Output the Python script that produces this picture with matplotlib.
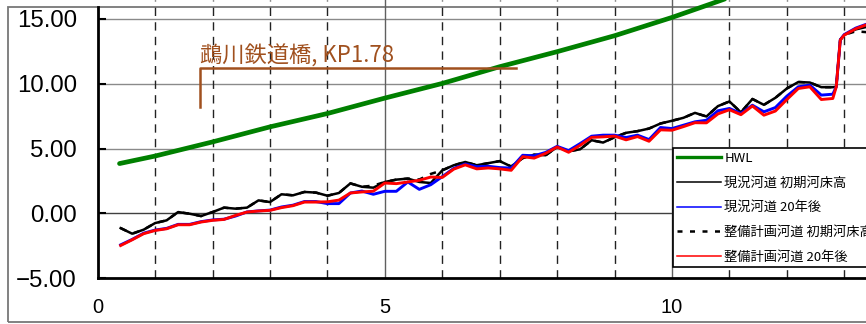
import matplotlib
matplotlib.use("Agg")
import matplotlib.pyplot as plt
from matplotlib.lines import Line2D
from matplotlib.patches import Rectangle

# ---- data -------------------------------------------------------------
# distance from river mouth (km)
km = [0.4, 0.6, 0.8, 1.0, 1.2, 1.4, 1.6, 1.8, 2.0, 2.2,
      2.4, 2.6, 2.8, 3.0, 3.2, 3.4, 3.6, 3.8, 4.0, 4.2,
      4.4, 4.6, 4.8, 5.0, 5.2, 5.4, 5.6, 5.8, 6.0, 6.2,
      6.4, 6.6, 6.8, 7.0, 7.2, 7.4, 7.6, 7.8, 8.0, 8.2,
      8.4, 8.6, 8.8, 9.0, 9.2, 9.4, 9.6, 9.8, 10.0, 10.2,
      10.4, 10.6, 10.8, 11.0, 11.2, 11.4, 11.6, 11.8, 12.0, 12.2,
      12.4, 12.6, 12.8, 12.86, 12.93, 13.0, 13.2, 13.4]

# existing channel, initial bed elevation
current_initial = [-1.13, -1.56, -1.25, -0.74, -0.53, 0.11, -0.02, -0.20, 0.11, 0.45,
                   0.37, 0.45, 1.01, 0.88, 1.48, 1.40, 1.66, 1.61, 1.37, 1.58,
                   2.32, 2.06, 1.99, 2.43, 2.61, 2.69, 2.43, 2.35, 3.33, 3.72,
                   3.97, 3.72, 3.88, 4.04, 3.62, 4.27, 4.53, 4.49, 5.13, 4.80,
                   4.95, 5.65, 5.47, 5.88, 6.22, 6.35, 6.55, 6.94, 7.15, 7.38,
                   7.76, 7.48, 8.28, 8.64, 7.80, 8.83, 8.38, 8.92, 9.64, 10.14,
                   10.10, 9.74, 9.74, 9.77, 13.40, 13.78, 14.20, 14.40]

# existing channel, after 20 years
current_20y = [-2.42, -2.00, -1.52, -1.28, -1.15, -0.84, -0.84, -0.63, -0.50, -0.44,
               -0.20, 0.12, 0.20, 0.26, 0.50, 0.64, 0.92, 0.92, 0.76, 0.76,
               1.58, 1.73, 1.48, 1.71, 1.71, 2.43, 1.86, 2.22, 2.84, 3.48,
               3.82, 3.61, 3.64, 3.54, 3.50, 4.49, 4.45, 4.71, 5.18, 4.85,
               5.39, 5.96, 6.04, 6.04, 5.86, 6.04, 5.70, 6.63, 6.55, 6.81,
               7.07, 7.19, 7.92, 8.10, 7.71, 8.35, 7.84, 8.17, 9.05, 9.77,
               9.90, 9.13, 9.20, 9.77, 13.40, 13.80, 14.30, 14.62]

# planned channel, initial bed elevation
plan_initial = [-1.13, -1.56, -1.25, -0.74, -0.53, 0.11, -0.02, -0.20, 0.11, 0.45,
                0.37, 0.45, 1.01, 0.88, 1.48, 1.40, 1.66, 1.61, 1.37, 1.58,
                2.32, 2.06, 2.15, 2.43, 2.61, 2.69, 2.62, 3.05, 3.33, 3.72,
                3.97, 3.72, 3.88, 4.04, 3.62, 4.27, 4.53, 4.49, 5.13, 4.80,
                4.95, 5.65, 5.47, 5.88, 6.22, 6.35, 6.55, 6.94, 7.15, 7.38,
                7.76, 7.48, 8.28, 8.64, 7.80, 8.83, 8.38, 8.92, 9.64, 10.14,
                10.10, 9.74, 9.74, 9.77, 13.40, 13.78, 14.05, 13.98]

# planned channel, after 20 years
plan_20y = [-2.47, -2.03, -1.56, -1.31, -1.18, -0.87, -0.87, -0.66, -0.53, -0.46,
            -0.15, 0.11, 0.19, 0.24, 0.45, 0.60, 0.88, 0.88, 0.90, 1.03,
            1.58, 1.66, 1.72, 2.35, 2.30, 2.43, 2.56, 2.81, 2.78, 3.42,
            3.75, 3.44, 3.51, 3.44, 3.33, 4.38, 4.27, 4.64, 5.13, 4.72,
            5.26, 5.87, 5.91, 5.97, 5.68, 5.93, 5.57, 6.45, 6.42, 6.70,
            7.00, 6.99, 7.68, 8.00, 7.62, 8.29, 7.58, 7.90, 8.79, 9.64,
            9.77, 8.79, 8.87, 9.77, 13.38, 13.76, 14.25, 14.58]

# high water level
hwl_km = [0.38, 1.0, 2.0, 3.0, 4.0, 5.0, 6.0, 7.0, 8.0, 9.0, 10.0, 10.7, 11.4]
hwl = [3.85, 4.43, 5.52, 6.68, 7.71, 8.90, 10.03, 11.32, 12.48, 13.71, 15.12, 16.20, 17.30]

series_labels = ["HWL", "現況河道 初期河床高", "現況河道 20年後",
                 "整備計画河道 初期河床高", "整備計画河道 20年後"]

# bridge marker
bridge_label = "鵡川鉄道橋, KP1.78"
bridge_km = 1.78
bridge_leader_end = 7.29
bridge_y_top = 11.24
bridge_y_bottom = 8.18

x_ticks = [0, 5, 10]
x_tick_labels = ["0", "5", "10"]
y_ticks = [-5, 0, 5, 10, 15]
y_tick_labels = ["\u22125.00", "0.00", "5.00", "10.00", "15.00"]
dashed_grid_x = [1, 2, 3, 4, 6, 7, 8, 9, 11, 12, 13]
solid_grid_x = [5, 10]

# ---- figure -------------------------------------------------------------
W, H = 866, 324
fig = plt.figure(figsize=(W / 100, H / 100), dpi=100)
fig.patch.set_facecolor("white")

# outer chart frame
fig.patches.append(Rectangle((8 / W, 2 / H), 1.2, (317 - 2) / H,
                             transform=fig.transFigure, fill=False,
                             edgecolor="#777777", linewidth=1.3, zorder=-5))

left_px, bottom_px = 97.7, 278.3
ax = fig.add_axes([left_px / W, 1 - bottom_px / H, (W - left_px) / W, bottom_px / H])
ax.patch.set_alpha(0)
ax.set_xlim(0, (W - left_px) / 57.43)
ax.set_ylim(-5, 15 + 19 / 12.97)

for s in ("top", "right"):
    ax.spines[s].set_visible(False)
ax.spines["left"].set_linewidth(2.0)
ax.spines["bottom"].set_linewidth(2.0)
ax.spines["left"].set_bounds(-5, 15 + 12 / 12.97)

# grid
for y in [5, 10, 15]:
    ax.axhline(y, color="#8a8a8a", lw=1.0, zorder=1)
ax.axhline(0, color="#404040", lw=1.0, zorder=1)
for x in solid_grid_x:
    ax.axvline(x, color="#606060", lw=1.0, zorder=1)
for x in dashed_grid_x:
    ax.axvline(x, color="#222222", lw=1.0, linestyle=(0, (6, 4.5)), zorder=1)

# series
ax.plot(hwl_km, hwl, color="#008000", lw=3.4, solid_capstyle="round", zorder=3)
ax.plot(km, current_initial, color="black", lw=1.8, zorder=3)
ax.plot(km, plan_initial, color="black", lw=1.8, linestyle=(0, (2.5, 3)), zorder=3)
ax.plot(km, current_20y, color="#0000ff", lw=2.1, zorder=4)
ax.plot(km, plan_20y, color="#ff0000", lw=2.1, zorder=5)

# bridge annotation
brown = "#A0501E"
ax.plot([bridge_km, bridge_km, bridge_leader_end],
        [bridge_y_bottom, bridge_y_top, bridge_y_top], color=brown, lw=1.8, zorder=6)
ax.annotate(bridge_label, xy=(bridge_km, bridge_y_top), xytext=(0, 3.5),
            textcoords="offset points", ha="left", va="baseline", color=brown,
            fontsize=16, family=["Noto Sans CJK JP", "DejaVu Sans"], zorder=6)

# ticks
ax.set_xticks(x_ticks)
ax.set_xticklabels(x_tick_labels, fontsize=14.4, family="Liberation Sans")
ax.set_yticks(y_ticks)
ax.set_yticklabels(y_tick_labels, fontsize=17.3, family="Liberation Sans")
ax.tick_params(axis="x", length=0, pad=14)
ax.tick_params(axis="y", direction="in", length=6, width=1.5, pad=15)

# legend
handles = [
    Line2D([], [], color="#008000", lw=2.4),
    Line2D([], [], color="black", lw=1.1),
    Line2D([], [], color="#0000ff", lw=1.1),
    Line2D([], [], color="black", lw=1.8, linestyle=(0, (2, 3))),
    Line2D([], [], color="#ff0000", lw=1.1),
]
leg = ax.legend(handles, series_labels, loc="upper left",
                bbox_to_anchor=(673 / W, 1 - 148 / H), bbox_transform=fig.transFigure,
                prop={"family": ["Noto Sans CJK JP", "DejaVu Sans"], "size": 9.5},
                handlelength=3.3, handletextpad=0.3, borderpad=0.3,
                labelspacing=0.88, borderaxespad=0, fancybox=False,
                framealpha=1, edgecolor="black")
leg.get_frame().set_linewidth(1.2)
leg.set_zorder(10)

fig.savefig("out.png", dpi=100)
